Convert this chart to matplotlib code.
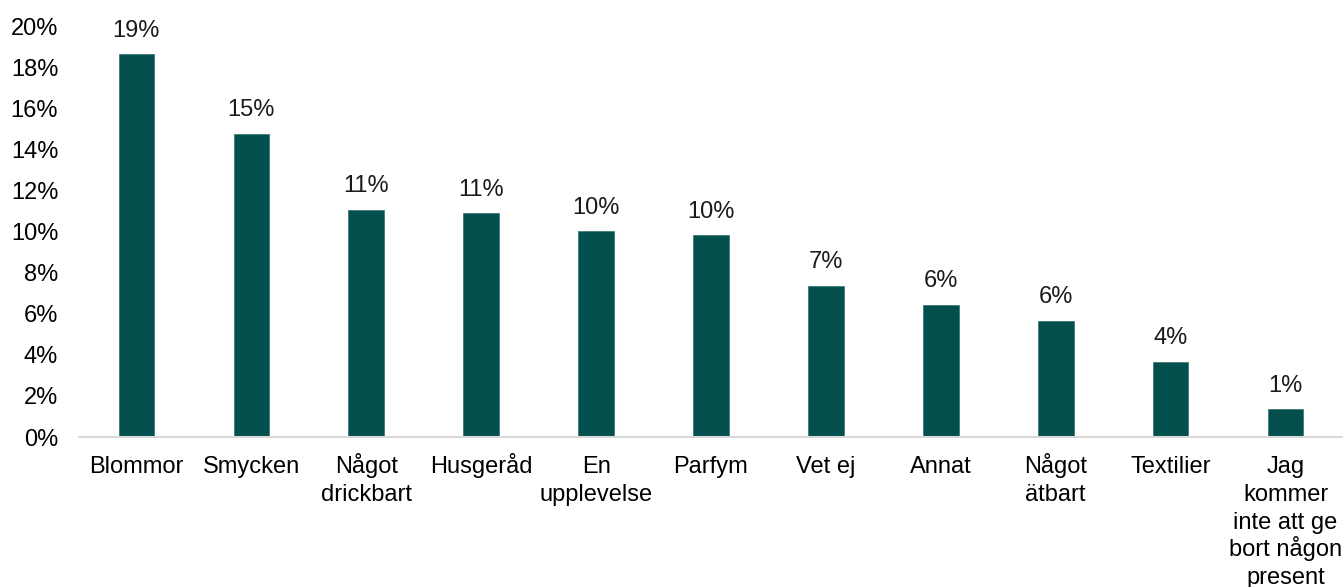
import matplotlib.pyplot as plt
from matplotlib.ticker import FuncFormatter

plt.rcParams['font.family'] = ['Liberation Sans', 'DejaVu Sans']

# Data (percent)
categories = ['Blommor', 'Smycken', 'Något\ndrickbart', 'Husgeråd', 'En\nupplevelse',
              'Parfym', 'Vet ej', 'Annat', 'Något\nätbart', 'Textilier',
              'Jag\nkommer\ninte att ge\nbort någon\npresent']
values = [18.65, 14.78, 11.07, 10.91, 10.02, 9.84, 7.38, 6.44, 5.66, 3.66, 1.35]
labels = ['19%', '15%', '11%', '11%', '10%', '10%', '7%', '6%', '6%', '4%', '1%']

bar_color = '#024F4E'
fs = 17

fig = plt.figure(figsize=(13.43, 5.87), dpi=100)
ax = fig.add_axes([0.0588, 0.2555, 0.9412, 0.699])

x = range(len(categories))
bars = ax.bar(x, values, width=0.31, color=bar_color, edgecolor='#3F7A78', linewidth=0.6)

for b, lab in zip(bars, labels):
    ax.annotate(lab, (b.get_x() + b.get_width() / 2, b.get_height()),
                xytext=(0, 9), textcoords='offset points',
                ha='center', va='bottom', fontsize=fs, color='#1a1a1a')

ax.set_xlim(-0.5, len(categories) - 0.5)
ax.set_ylim(0, 20)
ax.set_yticks(range(0, 21, 2))
ax.yaxis.set_major_formatter(FuncFormatter(lambda v, p: f'{int(v)}%'))
ax.tick_params(axis='y', length=0, pad=15, labelsize=fs)

# category labels, one text per line so every first line sits on the same baseline
ax.set_xticks(list(x))
ax.tick_params(axis='x', length=0, labelbottom=False)
for i, cat in zip(x, categories):
    for k, line in enumerate(cat.split('\n')):
        ax.annotate(line, (i, 0), xycoords=ax.get_xaxis_transform(),
                    xytext=(0, -26 - k * 20), textcoords='offset points',
                    ha='center', va='baseline', fontsize=fs, color='#000000',
                    annotation_clip=False)

for s in ['top', 'right', 'left']:
    ax.spines[s].set_visible(False)
ax.spines['bottom'].set_color('#D9D9D9')
ax.spines['bottom'].set_linewidth(1.5)

fig.savefig('out.png', dpi=100)
